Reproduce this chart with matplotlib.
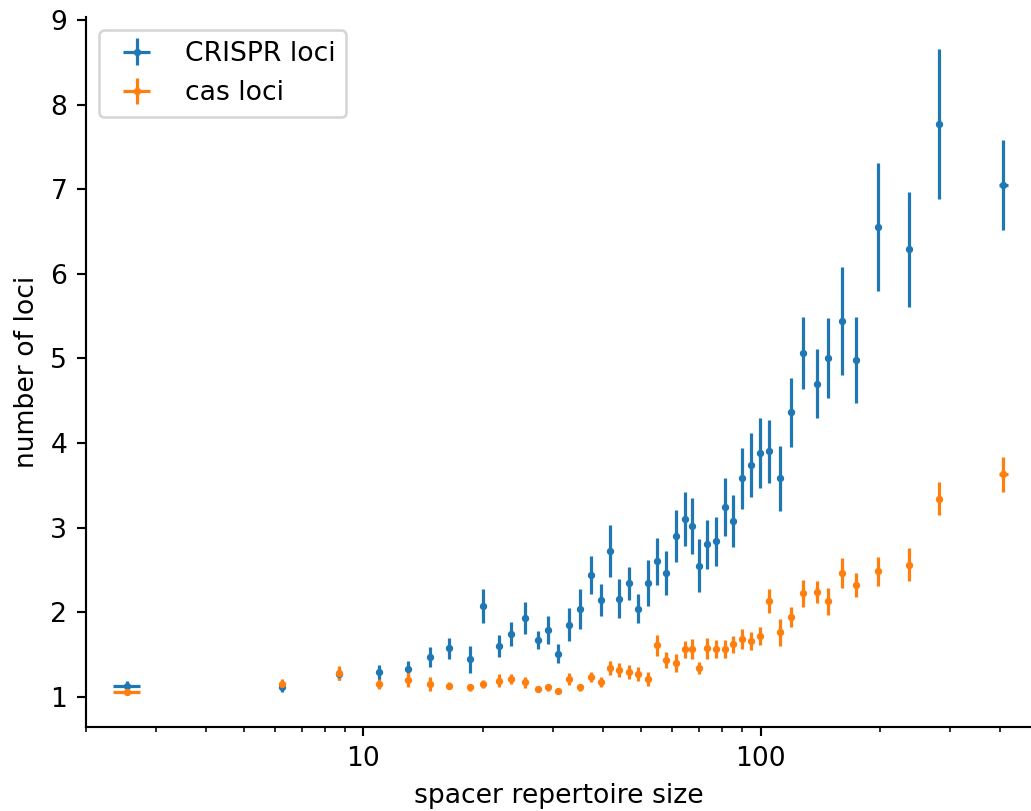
import numpy as np
import matplotlib
matplotlib.use('Agg')
import matplotlib.pyplot as plt
from matplotlib.ticker import ScalarFormatter, NullFormatter

# === Binned spacer repertoire sizes (bin means) ===
repertoire_size = [2.54, 6.25, 8.66, 10.94, 12.97, 14.71, 16.43, 18.51, 20.04, 21.98,
                   23.57, 25.47, 27.46, 29.21, 30.83, 33.0, 35.2, 37.4, 39.6, 41.85,
                   43.95, 46.65, 49.2, 52.1, 54.9, 57.9, 61.4, 64.7, 67.3, 70.1,
                   73.2, 77.4, 81.4, 85.2, 90.0, 94.8, 99.7, 105.2, 112.2, 119.1,
                   127.8, 138.8, 148.2, 160.2, 174.3, 197.7, 237.1, 282.1, 409.0]
size_err = [0.2] + [0.0] * 47 + [10.0]

# === Mean number of loci per bin ===
crispr_loci = [1.13, 1.11, 1.27, 1.29, 1.33, 1.47, 1.57, 1.44, 2.07, 1.60,
               1.74, 1.93, 1.67, 1.79, 1.51, 1.85, 2.04, 2.44, 2.14, 2.72,
               2.16, 2.34, 2.04, 2.34, 2.60, 2.46, 2.90, 3.10, 3.02, 2.55,
               2.80, 2.84, 3.24, 3.08, 3.58, 3.74, 3.88, 3.90, 3.58, 4.36,
               5.06, 4.70, 5.00, 5.44, 4.98, 6.55, 6.29, 7.77, 7.05]
crispr_err = [0.05, 0.05, 0.07, 0.09, 0.09, 0.115, 0.125, 0.16, 0.20, 0.134,
              0.14, 0.19, 0.11, 0.166, 0.115, 0.195, 0.237, 0.225, 0.19, 0.31,
              0.23, 0.195, 0.17, 0.27, 0.276, 0.26, 0.31, 0.314, 0.33, 0.316,
              0.29, 0.29, 0.34, 0.306, 0.36, 0.383, 0.418, 0.37, 0.383, 0.41,
              0.425, 0.41, 0.474, 0.64, 0.507, 0.756, 0.68, 0.889, 0.527]

cas_loci = [1.05, 1.15, 1.28, 1.15, 1.20, 1.15, 1.13, 1.11, 1.15, 1.19,
            1.21, 1.17, 1.09, 1.11, 1.07, 1.21, 1.11, 1.23, 1.17, 1.34,
            1.31, 1.29, 1.27, 1.21, 1.61, 1.43, 1.40, 1.56, 1.56, 1.34,
            1.57, 1.56, 1.56, 1.62, 1.68, 1.66, 1.72, 2.13, 1.76, 1.94,
            2.22, 2.24, 2.13, 2.46, 2.32, 2.48, 2.56, 3.34, 3.63]
cas_err = [0.02, 0.06, 0.087, 0.06, 0.09, 0.08, 0.04, 0.04, 0.045, 0.08,
           0.06, 0.067, 0.036, 0.04, 0.03, 0.07, 0.04, 0.06, 0.06, 0.08,
           0.083, 0.08, 0.08, 0.08, 0.125, 0.093, 0.105, 0.10, 0.12, 0.075,
           0.128, 0.108, 0.108, 0.10, 0.12, 0.105, 0.108, 0.146, 0.156, 0.122,
           0.158, 0.127, 0.16, 0.18, 0.146, 0.166, 0.197, 0.196, 0.207]

# === Plot ===
dpi = 192
fig = plt.figure(figsize=(1031 / dpi, 811 / dpi), dpi=dpi)
ax = fig.add_axes([0.0834, 0.1032, 0.9166, 0.8758])

ax.errorbar(repertoire_size, crispr_loci, xerr=size_err, yerr=crispr_err,
            fmt='.', ms=3.5, lw=1.2, color='tab:blue', label='CRISPR loci')
ax.errorbar(repertoire_size, cas_loci, xerr=size_err, yerr=cas_err,
            fmt='.', ms=3.5, lw=1.2, color='tab:orange', label='cas loci')

ax.set_xscale('log')
ax.set_xlim(2, 480)
ax.set_ylim(0.638, 9.035)
ax.xaxis.set_major_formatter(ScalarFormatter())
ax.xaxis.set_minor_formatter(NullFormatter())
ax.set_xlabel('spacer repertoire size')
ax.set_ylabel('number of loci')
ax.spines['top'].set_visible(False)
ax.spines['right'].set_visible(False)
ax.legend(loc='upper left')

fig.savefig('out.png', dpi=dpi)
